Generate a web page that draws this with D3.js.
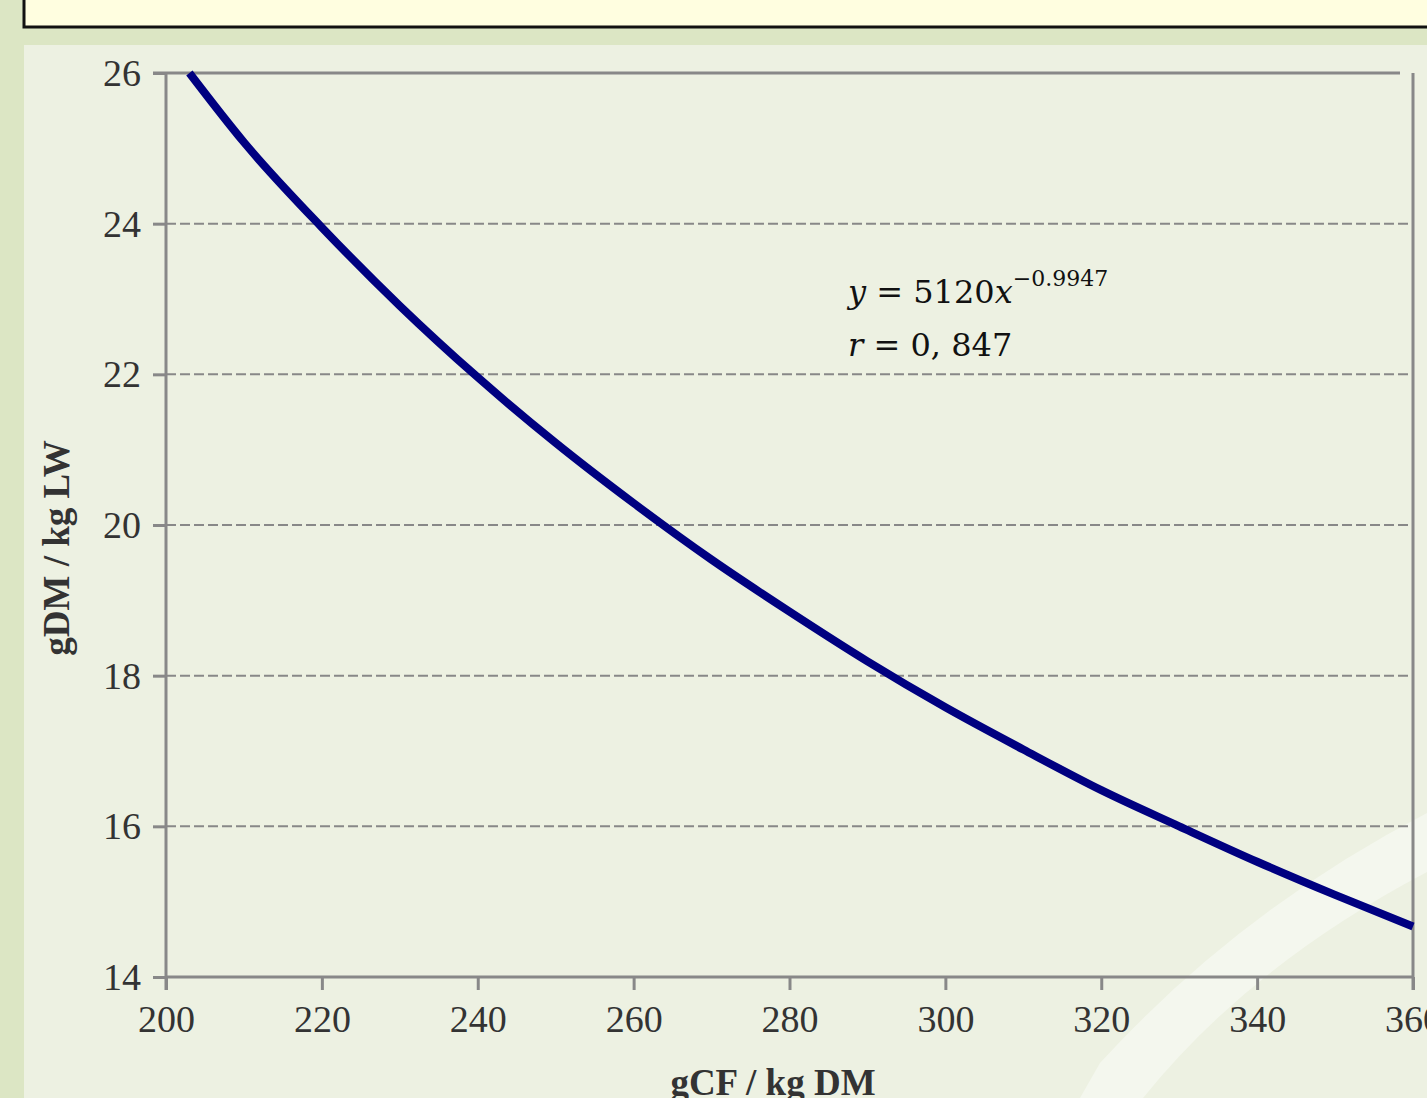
<!DOCTYPE html>
<html><head><meta charset="utf-8">
<script src="https://cdn.jsdelivr.net/npm/d3@7"></script>
<style>html,body{margin:0;padding:0;background:#dce6c4;overflow:hidden}</style>
</head><body>
<svg id="c" width="1427" height="1098"></svg>
<script>
const xValues = [203, 210, 220, 230, 240, 250, 260, 270, 280, 290, 300, 310, 320, 330, 340, 350, 360];
const yValues = [26.0, 25.08, 23.95, 22.91, 21.96, 21.09, 20.29, 19.54, 18.85, 18.19, 17.58, 17.02, 16.48, 16.0, 15.53, 15.09, 14.67];
const xTicks = [200, 220, 240, 260, 280, 300, 320, 340, 360];
const yTicks = [14, 16, 18, 20, 22, 24, 26];
const xLabel = "gCF / kg DM";
const yLabel = "gDM / kg LW";

const svg = d3.select("#c");
const W = 1427, H = 1098;
const SERIF = "Liberation Serif, Times New Roman, serif";
const x = d3.scaleLinear().domain([200, 360]).range([166, 1413]);
const y = d3.scaleLinear().domain([14, 26]).range([977, 73]);

// backgrounds
svg.append("rect").attr("x",0).attr("y",0).attr("width",W).attr("height",H).attr("fill","#dce6c4");
svg.append("rect").attr("x",24).attr("y",-5).attr("width",1420).attr("height",32)
  .attr("fill","#fffee0").attr("stroke","#111").attr("stroke-width",3);
svg.append("rect").attr("x",24).attr("y",45).attr("width",W-24).attr("height",H-45).attr("fill","#edf1e2");
// decorative band
svg.append("path")
  .attr("d","M1100,1063 Q1240,910 1427,813 L1427,872 Q1250,965 1143,1098 L1080,1098 Z")
  .attr("fill","#f4f7ee");

const g = svg.append("g");
// dashed grid
g.selectAll(".grid").data(yTicks.filter(d => d > 14 && d < 26)).join("line")
  .attr("x1", x(200)).attr("x2", 1410).attr("y1", d => y(d)).attr("y2", d => y(d))
  .attr("stroke","#888").attr("stroke-width",2).attr("stroke-dasharray","10,4");
// top line
g.append("line").attr("x1",153).attr("x2",1400).attr("y1",y(26)).attr("y2",y(26))
  .attr("stroke","#888").attr("stroke-width",3);
// right border
g.append("line").attr("x1",x(360)).attr("x2",x(360)).attr("y1",y(26)).attr("y2",990)
  .attr("stroke","#888").attr("stroke-width",3);

// axes
const yAxis = d3.axisLeft(y).tickValues(yTicks).tickSize(13).tickPadding(12).tickFormat(d3.format("d"));
const ya = g.append("g").attr("transform",`translate(${x(200)},0)`).call(yAxis)
  .attr("font-family", SERIF).attr("font-size", 38);
ya.select(".domain").attr("d", `M0,${y(26)}V990`).attr("stroke","#888").attr("stroke-width",3);
ya.selectAll(".tick line").attr("stroke","#888").attr("stroke-width",3);
ya.selectAll(".tick text").attr("fill","#333").attr("font-family", SERIF).attr("font-size", 38).attr("dy","0.33em");

const xAxis = d3.axisBottom(x).tickValues(xTicks).tickSize(13).tickPadding(15).tickFormat(d3.format("d"));
const xa = g.append("g").attr("transform",`translate(0,${y(14)})`).call(xAxis)
  .attr("font-family", SERIF).attr("font-size", 38);
xa.select(".domain").attr("d", `M${x(200)},0H${x(360)}`).attr("stroke","#888").attr("stroke-width",3);
xa.selectAll(".tick line").attr("stroke","#888").attr("stroke-width",3);
xa.selectAll(".tick text").attr("fill","#333").attr("font-family", SERIF).attr("font-size", 38).attr("dy","0.7em");

// curve
const data = xValues.map((v,i)=>[v,yValues[i]]);
g.append("path").datum(data)
  .attr("d", d3.line().x(d=>x(d[0])).y(d=>y(d[1])).curve(d3.curveMonotoneX))
  .attr("fill","none").attr("stroke","#000080").attr("stroke-width",8);

// labels
svg.append("text").attr("x",773).attr("y",1095).attr("text-anchor","middle")
  .attr("fill","#333").attr("font-family", SERIF).attr("font-weight","bold").attr("font-size",37)
  .text(xLabel);
svg.append("text").attr("transform","translate(69,548) rotate(-90)").attr("text-anchor","middle")
  .attr("fill","#333").attr("font-family", SERIF).attr("font-weight","bold").attr("font-size",37)
  .text(yLabel);

// equation
const eq = svg.append("text").attr("x",848).attr("y",303).attr("fill","#111")
  .attr("font-family","DejaVu Serif").attr("font-size",32);
eq.append("tspan").attr("font-style","italic").text("y");
eq.append("tspan").text(" = 5120");
eq.append("tspan").attr("font-style","italic").text("x");
eq.append("tspan").attr("dy",-17).attr("font-size",22).text("\u22120.9947");
const eq2 = svg.append("text").attr("x",848).attr("y",356).attr("fill","#111")
  .attr("font-family","DejaVu Serif").attr("font-size",32);
eq2.append("tspan").attr("font-style","italic").text("r");
eq2.append("tspan").text(" = 0, 847");
</script>
</body></html>
